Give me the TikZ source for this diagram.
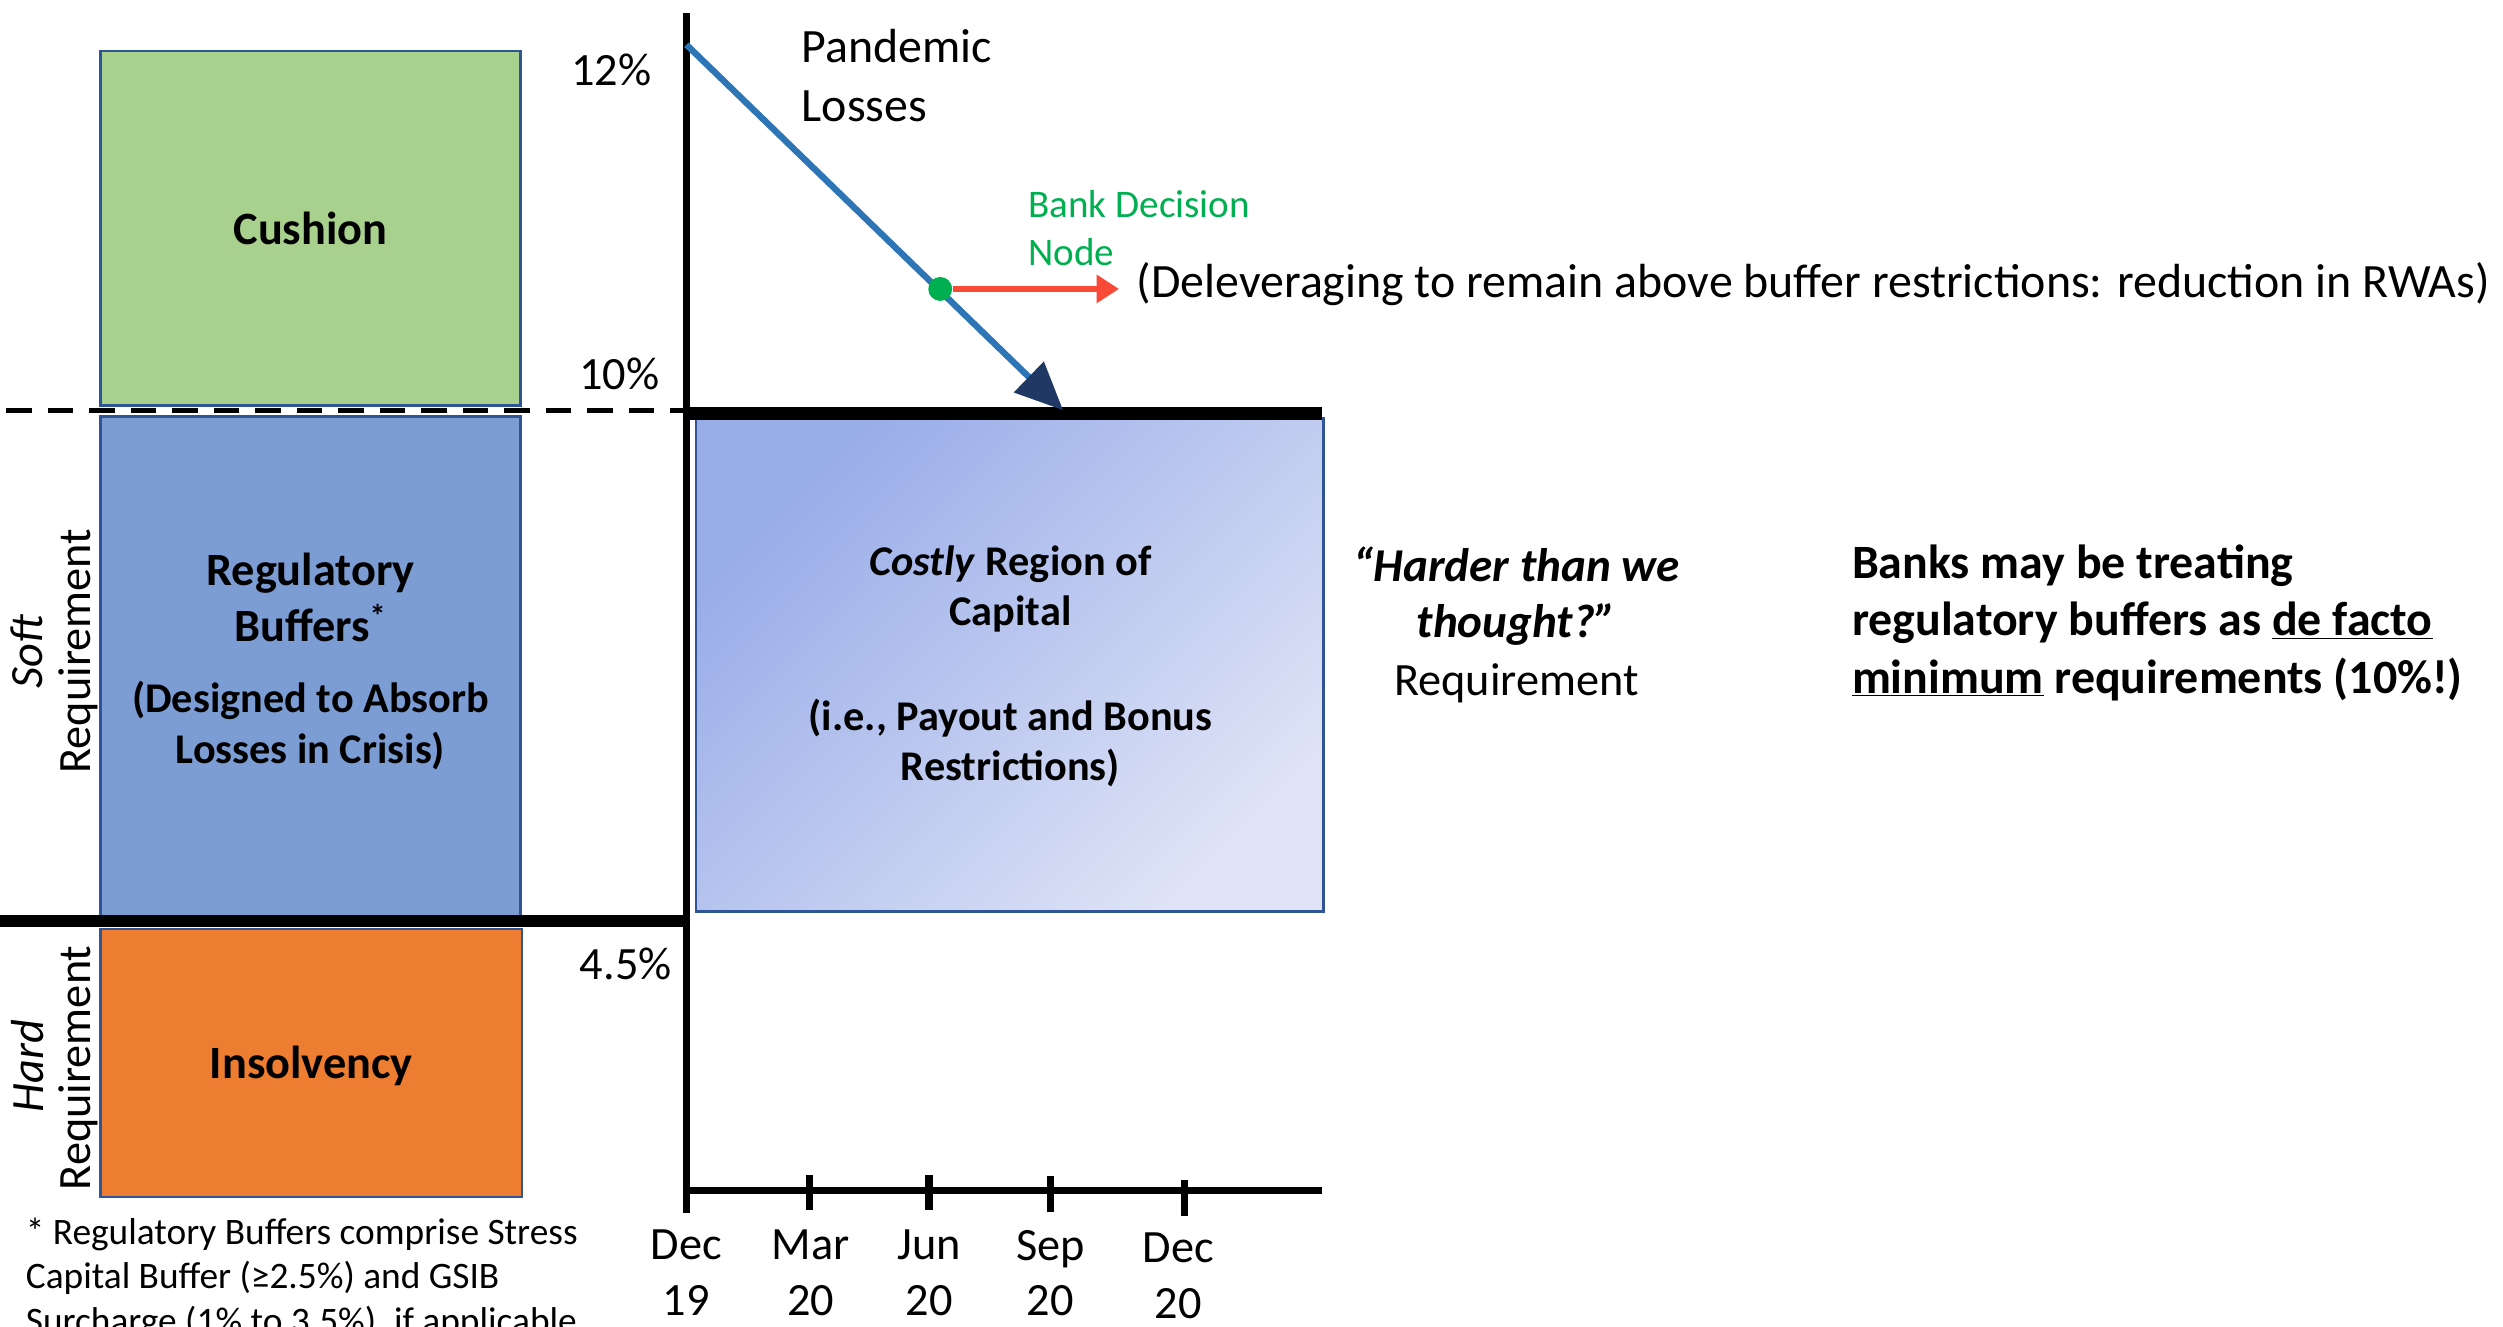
\documentclass[tikz,border=0pt]{standalone}
\usepackage{fontspec}
\setmainfont{Carlito}
\usetikzlibrary{arrows.meta}
\definecolor{boxblue}{HTML}{2F5597}
\definecolor{cushgreen}{HTML}{A9D18E}
\definecolor{regblue}{HTML}{7C9CD4}
\definecolor{insorange}{HTML}{ED7D31}
\definecolor{lossblue}{HTML}{2E75B6}
\definecolor{navy}{HTML}{203864}
\definecolor{nodegreen}{HTML}{00B050}
\definecolor{arrred}{HTML}{F84A36}
\definecolor{costlyA}{HTML}{98ACE8}
\definecolor{costlyB}{HTML}{DEE3F6}
\begin{document}
\begin{tikzpicture}[x=1pt,y=-1pt,
  capbox/.style={draw=boxblue,line width=1.5pt,inner sep=0pt},
  txt/.style={inner sep=0pt,align=center},
  big/.style={font=\fontsize{29}{35}\selectfont},
  bigb/.style={font=\fontsize{29}{35}\selectfont\bfseries},
  subb/.style={font=\fontsize{26.5}{31.5}\selectfont\bfseries},
  axisline/.style={line width=4.5pt,black},
  tickline/.style={line width=4.5pt,black}]
\useasboundingbox (0,0) rectangle (1568,831);

% boxes
\node[capbox,fill=cushgreen,minimum width=263pt,minimum height=222pt] (cushion) at (194.5,143) {};
\node[capbox,fill=regblue,minimum width=263pt,minimum height=314pt] (regbuf) at (194.5,418) {};
\node[capbox,fill=insorange,minimum width=264pt,minimum height=168pt] (insolv) at (195,666) {};
\shade[top color=costlyA,bottom color=costlyB,shading angle=45] (436,262) rectangle (829,571);
\node[draw=boxblue,line width=1.5pt,inner sep=0pt,minimum width=393pt,minimum height=309pt] (costly) at (632.5,416.5) {};

% box texts
\node[txt,bigb] (cushiontxt) at (194.5,143) {Cushion};
\node[txt,bigb] (regtitle) at (194.5,374.5) {Regulatory\\Buffers\textsuperscript{*}};
\node[txt,subb] (regsub) at (194.5,454.5) {(Designed to Absorb\\Losses in Crisis)};
\node[txt,bigb] (insolvtxt) at (195,668) {Insolvency};
\node[txt,subb] (costlytitle) at (633,369) {\textit{Costly} Region of\\Capital};
\node[txt,subb] (costlysub) at (633,465.5) {(i.e., Payout and Bonus\\Restrictions)};

% axes and level lines
\coordinate (axtop) at (430,8);
\coordinate (axbot) at (430,760);
\coordinate (xaxL) at (430,746);
\coordinate (xaxR) at (828,746);
\coordinate (dashL) at (4,257);
\coordinate (dashR) at (430,257);
\coordinate (hardL) at (0,577);
\coordinate (hardR) at (430,577);
\coordinate (tenL) at (430,259);
\coordinate (tenR) at (828,259);
\draw[black,line width=3pt,dash pattern=on 16pt off 10pt] (dashL) -- (dashR);
\draw[black,line width=7pt] (hardL) -- (hardR);
\draw[black,line width=8pt] (tenL) -- (tenR);
\draw[axisline] (axtop) -- (axbot);
\draw[axisline] (xaxL) -- (xaxR);

% ticks
\coordinate (t1a) at (507,736); \coordinate (t1b) at (507,758);
\coordinate (t2a) at (582,736); \coordinate (t2b) at (582,758);
\coordinate (t3a) at (658,737); \coordinate (t3b) at (658,759);
\coordinate (t4a) at (742,739); \coordinate (t4b) at (742,762);
\draw[tickline] (t1a) -- (t1b);
\draw[tickline] (t2a) -- (t2b);
\draw[tickline] (t3a) -- (t3b);
\draw[tickline] (t4a) -- (t4b);

% tick labels
\node[txt,big] (lab1) at (430,797.5) {Dec\\19};
\node[txt,big] (lab2) at (508,797.5) {Mar\\20};
\node[txt,big] (lab3) at (582,797.5) {Jun\\20};
\node[txt,big] (lab4) at (658,797.5) {Sep\\20};
\node[txt,big] (lab5) at (738,799) {Dec\\20};

% percentage labels
\node[txt,big] (p12lab) at (383,44) {12\%};
\node[txt,big] (p10lab) at (388,234) {10\%};
\node[txt,big] (p45lab) at (392,604) {4.5\%};

% rotated side labels
\node[txt,big,rotate=90] (softlab) at (17,408) {\textit{Soft}};
\node[txt,big,rotate=90] (softreq) at (49,408) {Requirement};
\node[txt,big,rotate=90] (hardlab) at (17,668) {\textit{Hard}};
\node[txt,big,rotate=90] (hardreq) at (49,669) {Requirement};

% pandemic losses path
\coordinate (lossstart) at (430,28);
\coordinate (lossend) at (666,257);
\draw[lossblue,line width=4pt,-{Triangle[length=30pt,width=26pt,color=navy]}] (lossstart) -- (lossend);
\node[txt,align=left,anchor=west,font=\fontsize{30}{37}\selectfont] (pandemic) at (502,47.5) {Pandemic\\Losses};

% decision node
\node[circle,fill=nodegreen,inner sep=0pt,minimum size=15pt] (dot) at (589,181) {};
\coordinate (redtip) at (701,181);
\draw[arrred,line width=4pt,-{Triangle[length=14pt,width=17pt]}] (dot.east) -- (redtip);
\node[txt,align=left,anchor=west,text=nodegreen,font=\fontsize{24.5}{30}\selectfont] (banknode) at (644,143) {Bank Decision\\Node};
\node[txt,anchor=west,font=\fontsize{30}{36}\selectfont] (delev) at (712,178) {(Deleveraging to remain above buffer restrictions: reduction in RWAs)};

% right-hand texts
\node[txt,font=\fontsize{29.5}{35}\selectfont\bfseries\itshape] (harder) at (950,373.5) {“Harder than we\\thought?”};
\node[txt,big] (hardreqtxt) at (950,428) {Requirement};
\node[txt,align=left,anchor=west,font=\fontsize{30}{36}\selectfont\bfseries] (banks) at (1160,390) {Banks may be treating\\regulatory buffers as \underline{de facto}\\\underline{minimum} requirements (10\%!)};

% footnote
\node[txt,align=left,anchor=west,font=\fontsize{23.4}{28}\selectfont] (foot) at (16,801) {* Regulatory Buffers comprise Stress\\Capital Buffer (≥2.5\%) and GSIB\\Surcharge (1\% to 3.5\%), if applicable};
\end{tikzpicture}
\end{document}
